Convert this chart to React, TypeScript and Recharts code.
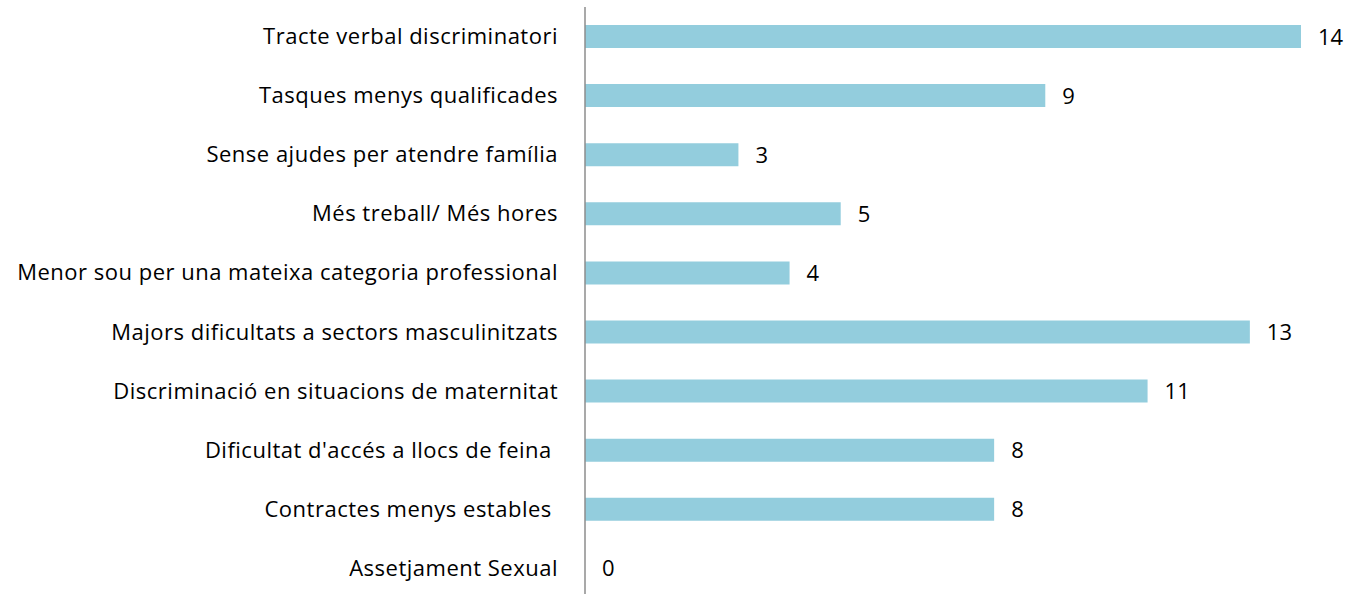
import { BarChart, Bar, XAxis, YAxis, LabelList } from "recharts";

// categories, top to bottom (trailing spaces kept as in the source)
const categories = [
  "Tracte verbal discriminatori",
  "Tasques menys qualificades",
  "Sense ajudes per atendre família",
  "Més treball/ Més hores",
  "Menor sou per una mateixa categoria professional",
  "Majors dificultats a sectors masculinitzats",
  "Discriminació en situacions de maternitat",
  "Dificultat d'accés a llocs de feina ",
  "Contractes menys estables ",
  "Assetjament Sexual",
];

const values = [14, 9, 3, 5, 4, 13, 11, 8, 8, 0];

const chartData = categories.map((name, i) => ({ name, value: values[i] }));

const FONT = "'Open Sans', sans-serif";
const FONT_SIZE = 22;

function CategoryTick(props: any) {
  const { x, y, payload } = props;
  return (
    <text
      x={x}
      y={y}
      dy={7.5}
      textAnchor="end"
      fill="#000"
      fontSize={FONT_SIZE}
      fontFamily={FONT}
      letterSpacing={0.5}
      style={{ whiteSpace: "pre" }}
    >
      {payload.value}
    </text>
  );
}

function ValueLabel(props: any) {
  const { x, y, width, height, value } = props;
  return (
    <text
      x={Number(x) + Number(width) + 17}
      y={Number(y) + Number(height) / 2}
      dy={8}
      fill="#000"
      fontSize={FONT_SIZE}
      fontFamily={FONT}
    >
      {value}
    </text>
  );
}

export default function App() {
  return (
    <div style={{ position: "absolute", left: 0, top: 0, background: "#fff" }}>
      <BarChart
        width={1349}
        height={600}
        data={chartData}
        layout="vertical"
        margin={{ top: 7, right: 48, bottom: 2, left: 0 }}
        barCategoryGap={0}
      >
        <XAxis type="number" domain={[0, 14]} hide />
        <YAxis
          type="category"
          dataKey="name"
          width={585}
          tickLine={false}
          tickSize={0}
          tickMargin={27}
          axisLine={{ stroke: "#8c8c8c", strokeWidth: 1.5 }}
          tick={<CategoryTick />}
          interval={0}
        />
        <Bar
          dataKey="value"
          fill="#93CDDD"
          barSize={23}
          minPointSize={0.01}
          isAnimationActive={false}
        >
          <LabelList dataKey="value" content={<ValueLabel />} />
        </Bar>
      </BarChart>
    </div>
  );
}
